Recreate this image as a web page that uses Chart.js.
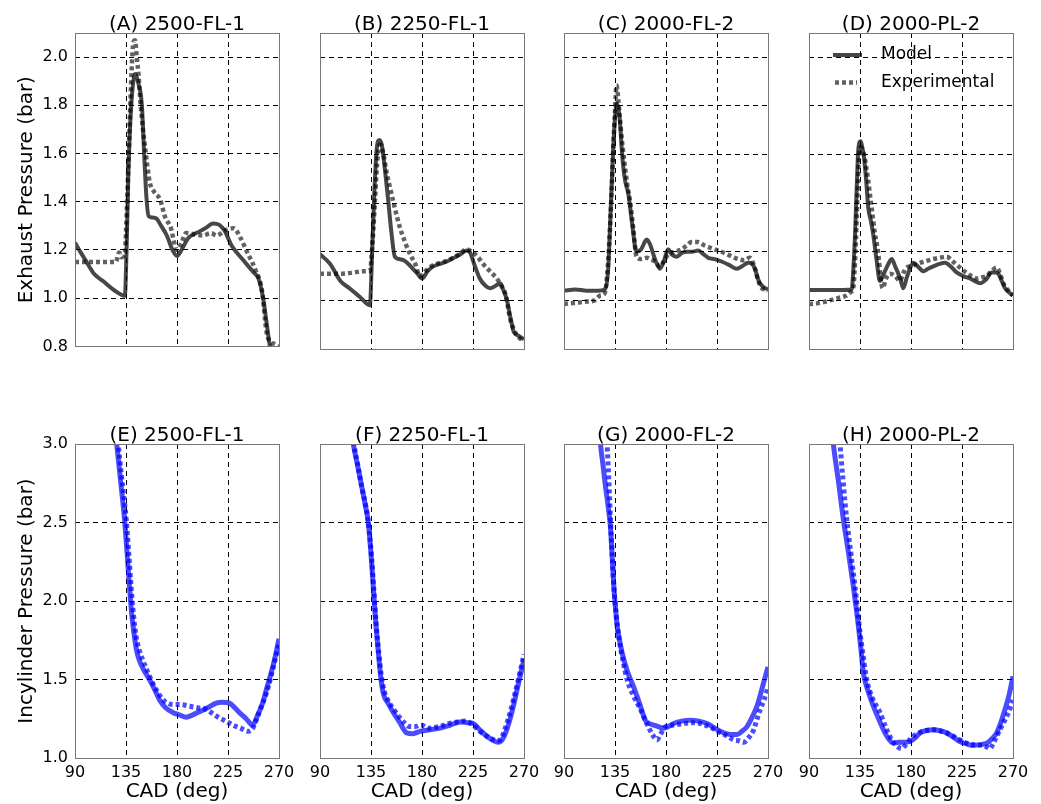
<!DOCTYPE html>
<html>
<head>
<meta charset="utf-8">
<title>Exhaust and in-cylinder pressure</title>
<script src="https://cdn.jsdelivr.net/npm/chart.js@4.4.0/dist/chart.umd.min.js"></script>
<style>
    html, body { margin: 0; padding: 0; background: #fff; width: 1041px; height: 804px; overflow: hidden; }
    canvas { position: absolute; }
</style>
</head>
<body>
<script>
// Titres et graduations
const panelTitles = ['(A) 2500-FL-1', '(B) 2250-FL-1', '(C) 2000-FL-2', '(D) 2000-PL-2',
                     '(E) 2500-FL-1', '(F) 2250-FL-1', '(G) 2000-FL-2', '(H) 2000-PL-2'];
const seriesLabels = ['Model', 'Experimental'];
const cadTicks = [90, 135, 180, 225, 270];
const exhaustTicks = [0.8, 1.0, 1.2, 1.4, 1.6, 1.8, 2.0];
const cylinderTicks = [1.0, 1.5, 2.0, 2.5, 3.0];

// Pression d'échappement (bar) - ligne du haut
const A_modelCad = [90, 95, 99, 107, 115, 124, 134, 135.5, 137, 139, 141, 143, 146, 149, 151, 153, 155, 158, 162, 166, 171, 176, 180, 184, 190, 197, 205, 212, 217, 222, 228, 238, 247, 252, 256, 259, 262, 265];
const A_modelP = [1.23, 1.19, 1.16, 1.10, 1.07, 1.035, 1.01, 1.20, 1.50, 1.75, 1.88, 1.93, 1.89, 1.80, 1.60, 1.42, 1.34, 1.335, 1.33, 1.30, 1.26, 1.20, 1.175, 1.20, 1.25, 1.27, 1.29, 1.31, 1.305, 1.28, 1.22, 1.16, 1.11, 1.08, 1.00, 0.90, 0.80, 0.75];
const A_expCad = [90, 100, 110, 120, 126, 129, 131, 134, 136, 138, 140, 141.5, 143, 144.5, 146, 148, 150, 152, 156, 160, 165, 170, 174, 180, 184, 188, 195, 203, 210, 215, 222, 230, 236, 242, 249, 255, 259, 262, 266, 270];
const A_expP = [1.15, 1.15, 1.15, 1.15, 1.15, 1.19, 1.17, 1.19, 1.40, 1.69, 1.95, 2.06, 2.07, 2.00, 1.93, 1.80, 1.70, 1.62, 1.48, 1.44, 1.41, 1.33, 1.30, 1.20, 1.23, 1.27, 1.265, 1.26, 1.27, 1.26, 1.28, 1.29, 1.25, 1.19, 1.12, 1.03, 0.86, 0.82, 0.81, 0.80];

const B_modelCad = [90, 99, 108, 116, 125, 134, 136, 138, 140, 142.3, 144.5, 147, 150, 153, 156, 160, 164, 168, 172, 176, 180, 185, 190, 196, 202, 208, 214, 219, 222, 226, 231, 236, 240, 245, 249, 252, 255, 258, 261, 265, 270];
const B_modelP = [1.19, 1.15, 1.08, 1.05, 1.015, 0.98, 1.20, 1.45, 1.62, 1.66, 1.64, 1.55, 1.42, 1.28, 1.18, 1.17, 1.165, 1.15, 1.13, 1.11, 1.09, 1.12, 1.14, 1.15, 1.16, 1.175, 1.19, 1.205, 1.20, 1.15, 1.09, 1.06, 1.05, 1.06, 1.07, 1.04, 1.00, 0.93, 0.87, 0.855, 0.84];
const B_expCad = [90, 100, 110, 120, 128, 134, 136.5, 138.5, 141, 143.5, 146, 149, 152, 156, 160.5, 165, 169.5, 174, 178, 183, 188, 193, 200, 207.5, 213, 219, 224, 229, 234, 240, 246, 250, 254, 257.5, 261, 265, 270];
const B_expP = [1.11, 1.11, 1.11, 1.115, 1.12, 1.12, 1.25, 1.41, 1.60, 1.64, 1.60, 1.52, 1.46, 1.38, 1.30, 1.24, 1.19, 1.15, 1.10, 1.12, 1.14, 1.15, 1.16, 1.175, 1.19, 1.21, 1.20, 1.18, 1.15, 1.12, 1.09, 1.06, 1.02, 0.93, 0.88, 0.85, 0.83];

const C_modelCad = [90, 100, 110, 120, 126, 129, 131, 133.4, 135, 136.4, 138, 139.3, 141, 142.3, 144, 146.7, 150, 154, 158, 163, 166, 168.8, 172, 174.7, 178, 182, 185, 189.4, 194, 198.2, 203, 208.5, 213, 217.3, 223, 229, 236, 242, 247, 252.6, 256, 258.5, 261, 263, 266, 270];
const C_modelP = [1.04, 1.045, 1.04, 1.04, 1.045, 1.13, 1.35, 1.62, 1.75, 1.81, 1.79, 1.74, 1.62, 1.55, 1.49, 1.44, 1.32, 1.20, 1.21, 1.25, 1.23, 1.19, 1.15, 1.13, 1.16, 1.21, 1.19, 1.18, 1.195, 1.20, 1.20, 1.205, 1.19, 1.175, 1.17, 1.16, 1.145, 1.13, 1.14, 1.155, 1.15, 1.13, 1.09, 1.07, 1.055, 1.045];
const C_expCad = [90, 100, 110, 117, 122, 126, 128, 130.3, 132, 133.4, 135, 136.4, 138, 139.3, 141.5, 143.8, 146, 148.2, 151, 154, 158, 163, 166, 170.3, 174.7, 178, 182, 187, 193.8, 198, 202.6, 208, 214.4, 220, 229, 236, 243.5, 249, 254, 258.5, 261.5, 264.6, 268, 270];
const C_expP = [0.985, 0.99, 0.995, 1.00, 1.02, 1.03, 1.10, 1.27, 1.45, 1.62, 1.78, 1.885, 1.82, 1.75, 1.64, 1.55, 1.47, 1.41, 1.30, 1.18, 1.17, 1.175, 1.17, 1.16, 1.14, 1.16, 1.19, 1.20, 1.21, 1.225, 1.24, 1.24, 1.225, 1.215, 1.20, 1.185, 1.17, 1.165, 1.175, 1.13, 1.08, 1.05, 1.045, 1.04];

const D_modelCad = [90, 100, 110, 120, 127.7, 129, 130.6, 132, 133.5, 135.6, 137, 138.5, 140.5, 142.3, 144.5, 146.7, 149.5, 152.6, 155, 157, 160, 163, 166, 168.8, 171, 173.2, 176, 179, 182, 186, 190.9, 195, 199.7, 205, 210, 215, 220.3, 226, 232, 236, 240.9, 246, 251.2, 254, 257, 260, 263, 266, 270];
const D_modelP = [1.043, 1.043, 1.043, 1.043, 1.045, 1.12, 1.27, 1.45, 1.62, 1.655, 1.63, 1.59, 1.49, 1.38, 1.33, 1.27, 1.17, 1.08, 1.10, 1.12, 1.15, 1.17, 1.14, 1.11, 1.08, 1.05, 1.09, 1.13, 1.155, 1.14, 1.12, 1.13, 1.14, 1.15, 1.155, 1.14, 1.115, 1.10, 1.09, 1.08, 1.07, 1.085, 1.115, 1.115, 1.11, 1.08, 1.05, 1.035, 1.02];
const D_expCad = [90, 100, 108.5, 116, 123, 127, 129, 131, 132.6, 134, 135.6, 137, 139, 142, 145.3, 148, 151.2, 153, 155, 158, 161.5, 166, 170.3, 173, 176, 180, 185, 192, 199.7, 205, 211.5, 217, 223.2, 230, 238, 243, 246.8, 251, 255.6, 258.5, 261.5, 265, 270];
const D_expP = [0.985, 0.99, 1.00, 1.01, 1.02, 1.035, 1.05, 1.20, 1.41, 1.58, 1.63, 1.62, 1.59, 1.50, 1.38, 1.28, 1.19, 1.10, 1.05, 1.09, 1.11, 1.10, 1.08, 1.11, 1.135, 1.14, 1.15, 1.16, 1.17, 1.175, 1.18, 1.16, 1.135, 1.11, 1.09, 1.095, 1.10, 1.12, 1.135, 1.11, 1.07, 1.045, 1.02];

// Pression cylindre (bar) - ligne du bas
const E_modelCad = [124, 126.8, 130, 133.7, 136, 138.1, 140, 142.5, 144.5, 146.9, 150, 155.7, 160, 164.6, 170, 176.3, 182, 188, 194, 199.9, 207, 214.6, 220, 226.3, 231, 235, 241, 246.8, 251, 255.6, 259, 263, 266.5, 270];
const E_modelP = [3.2, 3.0, 2.78, 2.52, 2.30, 2.09, 1.92, 1.77, 1.68, 1.62, 1.57, 1.50, 1.44, 1.37, 1.32, 1.29, 1.275, 1.26, 1.275, 1.295, 1.32, 1.35, 1.355, 1.35, 1.32, 1.29, 1.25, 1.21, 1.27, 1.35, 1.44, 1.54, 1.64, 1.76];
const E_expCad = [126, 128.2, 131, 135.2, 137.5, 139.5, 141.5, 144, 147, 150, 154, 159, 163, 167.8, 172, 176.6, 183, 191, 198, 205.7, 212, 217.5, 223, 229.3, 236, 242.5, 246, 249.8, 254, 258.7, 263, 266, 270];
const E_expP = [3.2, 3.0, 2.80, 2.52, 2.30, 2.09, 1.92, 1.77, 1.68, 1.62, 1.55, 1.47, 1.42, 1.37, 1.35, 1.34, 1.34, 1.33, 1.32, 1.31, 1.28, 1.255, 1.235, 1.21, 1.19, 1.17, 1.18, 1.24, 1.32, 1.41, 1.52, 1.61, 1.73];

const F_modelCad = [117, 119.4, 123, 126.8, 130, 132.6, 135, 137, 139, 141.5, 143.5, 145.9, 150, 154.7, 160, 166.5, 172, 178.2, 187, 195.9, 205, 213.5, 220, 225.3, 231, 237, 242, 247.3, 250, 253.2, 257, 260.6, 264, 268.8, 270];
const F_modelP = [3.15, 3.0, 2.87, 2.73, 2.61, 2.50, 2.30, 2.09, 1.88, 1.67, 1.52, 1.41, 1.35, 1.29, 1.23, 1.16, 1.155, 1.17, 1.18, 1.19, 1.21, 1.23, 1.225, 1.22, 1.18, 1.14, 1.115, 1.10, 1.11, 1.15, 1.23, 1.33, 1.44, 1.59, 1.63];
const F_expCad = [118, 120, 123.5, 127, 130.5, 133, 135.5, 137.5, 139.5, 142, 144, 146.5, 150.5, 155, 160, 165, 169, 174, 179, 186, 195, 204, 212, 218, 225, 231, 237, 242, 246, 249.5, 253, 257, 261, 265, 270];
const F_expP = [3.15, 3.0, 2.86, 2.72, 2.60, 2.48, 2.28, 2.07, 1.86, 1.66, 1.53, 1.43, 1.36, 1.31, 1.26, 1.22, 1.20, 1.20, 1.21, 1.19, 1.20, 1.22, 1.23, 1.235, 1.21, 1.17, 1.14, 1.12, 1.11, 1.12, 1.18, 1.27, 1.38, 1.50, 1.66];

const G_modelCad = [120, 122.2, 124.5, 126.6, 129, 131, 132.5, 134, 135.5, 136.9, 139, 141.3, 146, 151.6, 157, 161.8, 165, 169.2, 173, 178, 182, 186.8, 194, 201.5, 209, 216.2, 223, 230.9, 237, 242.7, 247, 251.5, 256, 260.3, 265, 270];
const G_modelP = [3.2, 3.0, 2.86, 2.73, 2.60, 2.47, 2.28, 2.09, 1.95, 1.84, 1.75, 1.67, 1.55, 1.45, 1.34, 1.24, 1.22, 1.21, 1.20, 1.19, 1.20, 1.22, 1.235, 1.24, 1.235, 1.22, 1.19, 1.16, 1.15, 1.15, 1.17, 1.20, 1.26, 1.33, 1.45, 1.58];
const G_expCad = [126, 128, 129.5, 131, 132.5, 134, 136, 138.4, 142, 145.7, 151, 157.5, 163, 168, 172, 175, 179.5, 187, 195.6, 203, 210.3, 218, 228, 234, 239.7, 244, 248.5, 253, 257.4, 260, 263.2, 266.5, 270];
const G_expP = [3.2, 3.0, 2.78, 2.52, 2.30, 2.09, 1.92, 1.77, 1.62, 1.50, 1.40, 1.31, 1.22, 1.15, 1.115, 1.15, 1.20, 1.21, 1.22, 1.225, 1.22, 1.20, 1.16, 1.14, 1.115, 1.11, 1.10, 1.13, 1.18, 1.24, 1.31, 1.37, 1.45];

const H_modelCad = [109, 111.5, 116, 120.3, 125, 129.2, 131.5, 133.6, 136, 138, 142, 146.8, 152, 158.6, 164.5, 169, 173.3, 179.2, 184, 188, 194, 199.8, 205, 211.5, 217, 223.2, 229, 235, 241, 246.8, 251, 255.6, 259, 263, 266.5, 270];
const H_modelP = [3.2, 3.0, 2.76, 2.52, 2.30, 2.09, 1.96, 1.84, 1.68, 1.54, 1.43, 1.33, 1.24, 1.14, 1.095, 1.10, 1.10, 1.105, 1.13, 1.16, 1.175, 1.18, 1.175, 1.16, 1.135, 1.105, 1.09, 1.08, 1.085, 1.095, 1.12, 1.16, 1.22, 1.31, 1.40, 1.52];
const H_expCad = [115, 117.4, 120, 123.3, 127, 130.6, 133, 135, 138, 140.9, 146, 152.6, 158, 163, 167, 171.8, 175, 180.6, 187, 193, 199.8, 207, 214.4, 222, 229, 236, 243.7, 247, 249.6, 253, 258.4, 262, 266, 270];
const H_expP = [3.2, 3.0, 2.77, 2.52, 2.30, 2.09, 1.93, 1.80, 1.64, 1.50, 1.38, 1.29, 1.19, 1.115, 1.08, 1.06, 1.08, 1.13, 1.16, 1.175, 1.18, 1.17, 1.15, 1.12, 1.095, 1.085, 1.08, 1.07, 1.06, 1.10, 1.18, 1.23, 1.29, 1.37];

// Géométrie des panneaux (zone de tracé en pixels)
const colLefts = [75, 320, 564, 809];
const PLOT_W = 204;
const rowTops = [33, 444];
const rowHeights = [316, 314];

Chart.defaults.font.family = '"DejaVu Sans", sans-serif';
Chart.defaults.font.size = 16;
Chart.defaults.color = '#000';

const panels = [
    { row: 0, col: 0, model: [A_modelCad, A_modelP], exp: [A_expCad, A_expP] },
    { row: 0, col: 1, model: [B_modelCad, B_modelP], exp: [B_expCad, B_expP] },
    { row: 0, col: 2, model: [C_modelCad, C_modelP], exp: [C_expCad, C_expP] },
    { row: 0, col: 3, model: [D_modelCad, D_modelP], exp: [D_expCad, D_expP], legend: true },
    { row: 1, col: 0, model: [E_modelCad, E_modelP], exp: [E_expCad, E_expP] },
    { row: 1, col: 1, model: [F_modelCad, F_modelP], exp: [F_expCad, F_expP] },
    { row: 1, col: 2, model: [G_modelCad, G_modelP], exp: [G_expCad, G_expP] },
    { row: 1, col: 3, model: [H_modelCad, H_modelP], exp: [H_expCad, H_expP] }
];

function toPoints(pair) {
    return pair[0].map((x, i) => ({ x: x, y: pair[1][i] }));
}

function align(px) {
    return Math.round(px - 0.5) + 0.5;
}

// Cadre gris + titre du panneau
const framePlugin = {
    id: 'panelFrame',
    afterDraw(chart, args, opts) {
        const { ctx, chartArea } = chart;
        const l = align(chartArea.left), r = align(chartArea.right);
        const t = align(chartArea.top), b = align(chartArea.bottom);
        ctx.save();
        ctx.strokeStyle = '#777';
        ctx.lineWidth = 1;
        ctx.setLineDash([]);
        ctx.strokeRect(l, t, r - l, b - t);
        ctx.font = '20px "DejaVu Sans", sans-serif';
        ctx.fillStyle = '#000';
        ctx.textAlign = 'center';
        ctx.textBaseline = 'alphabetic';
        ctx.fillText(opts.text, (chartArea.left + chartArea.right) / 2, chartArea.top - 3);
        ctx.restore();
    }
};

// Légende dans le panneau (D)
const legendPlugin = {
    id: 'insideLegend',
    afterDraw(chart, args, opts) {
        if (!opts.show) return;
        const { ctx, chartArea } = chart;
        const x0 = chartArea.left + 24;
        const rows = [chartArea.top + 22, chartArea.top + 49.5];
        ctx.save();
        chart.data.datasets.forEach((ds, i) => {
            const y = rows[i];
            ctx.strokeStyle = ds.borderColor;
            ctx.lineWidth = ds.borderWidth;
            ctx.lineCap = 'butt';
            ctx.setLineDash(ds.borderDash || []);
            ctx.beginPath();
            ctx.moveTo(x0 + (i ? 2 : 0), y);
            ctx.lineTo(x0 + (i ? 24 : 29), y);
            ctx.stroke();
            ctx.setLineDash([]);
            ctx.font = '17px "DejaVu Sans", sans-serif';
            ctx.fillStyle = '#000';
            ctx.textAlign = 'left';
            ctx.textBaseline = 'middle';
            ctx.fillText(ds.label, x0 + 48, y);
        });
        ctx.restore();
    }
};

function createPanel(p, index) {
    const colLeft = colLefts[p.col];
    const yW = p.col === 0 ? colLeft : 40;
    const xH = p.row === 0 ? 14 : 46;
    const plotH = rowHeights[p.row];
    const w = yW + PLOT_W + 25;
    const h = 33 + plotH + xH;

    const canvas = document.createElement('canvas');
    canvas.width = w;
    canvas.height = h;
    canvas.style.left = (colLeft - yW) + 'px';
    canvas.style.top = (rowTops[p.row] - 33) + 'px';
    canvas.style.width = w + 'px';
    canvas.style.height = h + 'px';
    document.body.appendChild(canvas);

    const top = p.row === 0;
    const lineColor = top ? ['rgba(0, 0, 0, 0.72)', 'rgba(0, 0, 0, 0.62)'] : ['rgba(0, 0, 255, 0.7)', 'rgba(0, 0, 255, 0.7)'];
    const yTicks = top ? exhaustTicks : cylinderTicks;

    new Chart(canvas, {
        type: 'line',
        data: {
            datasets: [
                {
                    label: seriesLabels[0],
                    data: toPoints(p.model),
                    borderColor: lineColor[0],
                    borderWidth: top ? 4 : 5
                },
                {
                    label: seriesLabels[1],
                    data: toPoints(p.exp),
                    borderColor: lineColor[1],
                    borderWidth: top ? 4.5 : 5,
                    borderDash: [4, 3]
                }
            ]
        },
        options: {
            responsive: false,
            animation: false,
            devicePixelRatio: 1,
            layout: { padding: { top: 33, right: 25, bottom: 0, left: 0 } },
            elements: {
                point: { radius: 0 },
                line: { cubicInterpolationMode: 'monotone', borderCapStyle: 'butt', fill: false }
            },
            plugins: {
                legend: { display: false },
                tooltip: { enabled: false },
                panelFrame: { text: panelTitles[index] },
                insideLegend: { show: !!p.legend }
            },
            scales: {
                x: {
                    type: 'linear',
                    min: 90,
                    max: 270,
                    z: 1,
                    afterBuildTicks: axis => { axis.ticks = cadTicks.map(v => ({ value: v })); },
                    afterFit: axis => { axis.height = xH; },
                    ticks: { display: !top, padding: 5, font: { size: 16 }, callback: v => String(v) },
                    grid: { color: '#000', lineWidth: 1, drawTicks: false },
                    border: { display: false, dash: [5, 4] },
                    title: {
                        display: !top,
                        text: 'CAD (deg)',
                        font: { size: 20 },
                        padding: { top: 0, bottom: 0 }
                    }
                },
                y: {
                    type: 'linear',
                    min: top ? 0.8 : 1.0,
                    max: top ? 2.1 : 3.0,
                    z: 1,
                    afterBuildTicks: axis => { axis.ticks = yTicks.map(v => ({ value: v })); },
                    afterFit: axis => { axis.width = yW; },
                    ticks: { display: p.col === 0, padding: 7, font: { size: 16 }, callback: v => Number(v).toFixed(1) },
                    grid: { color: '#000', lineWidth: 1, drawTicks: false },
                    border: { display: false, dash: [5, 4] },
                    title: {
                        display: p.col === 0,
                        text: top ? 'Exhaust Pressure (bar)' : 'Incylinder Pressure (bar)',
                        font: { size: 20 },
                        padding: { top: 15, bottom: 0 }
                    }
                }
            }
        },
        plugins: [framePlugin, legendPlugin]
    });
}

panels.forEach(createPanel);
</script>
</body>
</html>
